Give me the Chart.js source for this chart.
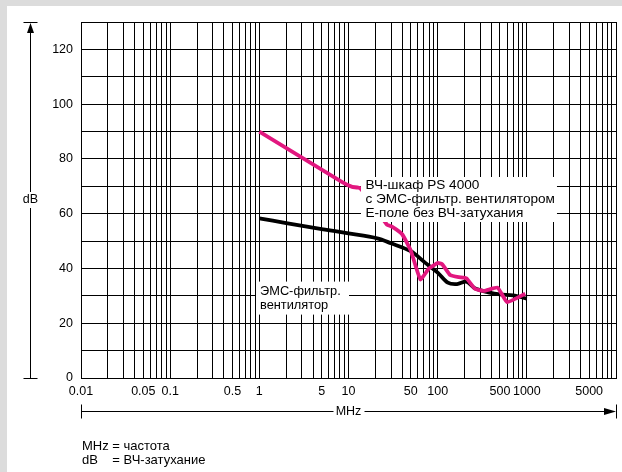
<!DOCTYPE html>
<html lang="ru">
<head>
  <meta charset="UTF-8">
  <title>ВЧ-затухание</title>
  <script src="https://cdn.jsdelivr.net/npm/chart.js"></script>
  <style>
    body {
      margin: 0;
      background: #dcdcdc;
      width: 622px;
      height: 472px;
      overflow: hidden;
      position: relative;
      font-family: "Liberation Sans", Arial, sans-serif;
    }
    .panel {
      position: absolute;
      left: 7px;
      top: 6px;
      right: 0;
      bottom: 0;
      background: #fff;
    }
    #chart {
      position: absolute;
      left: 0;
      top: 0;
    }
    .note {
      position: absolute;
      left: 82px;
      top: 439px;
      font-size: 13px;
      line-height: 13.5px;
      color: #000;
      white-space: pre;
    }
  </style>
</head>
<body>

<div class="panel"></div>
<canvas id="chart" width="622" height="472"></canvas>
<div class="note">MHz = частота
dB    = ВЧ-затухание</div>

<script>
// шкаф с фильтром (розовая кривая), MHz / dB
const freqCabinet = [1, 8.5, 11, 13.5, 20, 27, 31, 40, 50, 64, 80, 100, 112, 138, 172, 210, 262, 330, 470, 600, 960];
const dbCabinet   = [90, 71.5, 69.8, 69.3, 62, 56, 55.2, 52.5, 46.5, 36, 40, 42, 41.6, 37.6, 36.8, 36.4, 32.6, 31.8, 33, 27.7, 30.8];

// только ЭМС-фильтр вентилятора (чёрная кривая)
const freqFilter = [1, 2, 5, 10, 21, 30, 50, 70, 100, 130, 165, 210, 260, 370, 500, 700, 1000];
const dbFilter   = [58.3, 56.6, 54.4, 52.8, 51, 49.2, 46.3, 42.5, 38.5, 34.8, 34.3, 35.2, 32.8, 31.3, 30.5, 30.2, 29];

const xLabelValues = [0.01, 0.05, 0.1, 0.5, 1, 5, 10, 50, 100, 500, 1000, 5000];
const xLabels = ['0.01', '0.05', '0.1', '0.5', '1', '5', '10', '50', '100', '500', '1000', '5000'];
const yLabelValues = [0, 20, 40, 60, 80, 100, 120];

const cabinetText = ['ВЧ-шкаф PS 4000', 'с ЭМС-фильтр. вентилятором', 'Е-поле без ВЧ-затухания'];
const filterText = ['ЭМС-фильтр.', 'вентилятор'];

const FONT = '"Liberation Sans", Arial, sans-serif';

// линии сетки: 1..9 в каждой декаде
const gridValues = [];
for (let e = -2; e <= 3; e++) {
  for (let m = 1; m <= 9; m++) gridValues.push(+(m * Math.pow(10, e)).toPrecision(3));
}
gridValues.push(10000);

function toPoints(xs, ys) {
  return xs.map((x, i) => ({ x: x, y: ys[i] }));
}

function xLabelFor(v) {
  const i = xLabelValues.findIndex(lv => Math.abs(v / lv - 1) < 1e-6);
  return i >= 0 ? xLabels[i] : '';
}

// белые подписи поверх кривых
const labelBoxes = {
  id: 'labelBoxes',
  afterDatasetsDraw(chart) {
    const ctx = chart.ctx;
    const xs = chart.scales.x, ys = chart.scales.y;
    const boxes = [
      { f: 13.8, db: 73.4, w: 196, h: 45, lines: cabinetText, size: 13.6, lh: 13.8, pad: 4.5 },
      { f: 0.918, db: 35.2, w: 93, h: 33, lines: filterText, size: 12.8, lh: 14, pad: 4 }
    ];
    ctx.save();
    boxes.forEach(b => {
      const x = xs.getPixelForValue(b.f);
      const y = ys.getPixelForValue(b.db);
      ctx.fillStyle = '#fff';
      ctx.fillRect(x, y, b.w, b.h);
      ctx.fillStyle = '#000';
      ctx.font = b.size + 'px ' + FONT;
      ctx.textAlign = 'left';
      ctx.textBaseline = 'middle';
      const top = y + (b.h - b.lh * b.lines.length) / 2 + b.lh / 2;
      b.lines.forEach((t, i) => ctx.fillText(t, x + b.pad, top + i * b.lh));
    });
    ctx.restore();
  }
};

// стрелки осей dB и MHz
const axisArrows = {
  id: 'axisArrows',
  afterDraw(chart) {
    const ctx = chart.ctx;
    const a = chart.chartArea;
    const ax = 30.5;
    const ay = 411.5;
    const midY = (a.top + a.bottom) / 2;
    const midX = (a.left + a.right) / 2;
    ctx.save();
    ctx.strokeStyle = '#000';
    ctx.fillStyle = '#000';
    ctx.lineWidth = 1;
    ctx.beginPath();
    // вертикальная ось
    ctx.moveTo(ax - 7, a.top + 0.5); ctx.lineTo(ax + 7, a.top + 0.5);
    ctx.moveTo(ax - 7, a.bottom + 0.5); ctx.lineTo(ax + 7, a.bottom + 0.5);
    ctx.moveTo(ax, a.top + 10); ctx.lineTo(ax, midY - 8);
    ctx.moveTo(ax, midY + 8); ctx.lineTo(ax, a.bottom);
    // горизонтальная ось
    ctx.moveTo(a.left + 0.5, ay - 7); ctx.lineTo(a.left + 0.5, ay + 7);
    ctx.moveTo(a.right + 0.5, ay - 7); ctx.lineTo(a.right + 0.5, ay + 7);
    ctx.moveTo(a.left, ay); ctx.lineTo(midX - 15, ay);
    ctx.moveTo(midX + 16, ay); ctx.lineTo(a.right - 10, ay);
    ctx.stroke();
    ctx.beginPath();
    ctx.moveTo(ax, a.top + 1); ctx.lineTo(ax - 3.5, a.top + 11); ctx.lineTo(ax + 3.5, a.top + 11);
    ctx.closePath(); ctx.fill();
    ctx.beginPath();
    ctx.moveTo(a.right, ay); ctx.lineTo(a.right - 12, ay - 3.5); ctx.lineTo(a.right - 12, ay + 3.5);
    ctx.closePath(); ctx.fill();
    ctx.font = '12.5px ' + FONT;
    ctx.textAlign = 'center';
    ctx.textBaseline = 'middle';
    ctx.fillText('dB', ax, midY);
    ctx.fillText('MHz', midX, ay + 0.5);
    ctx.restore();
  }
};

new Chart(document.getElementById('chart'), {
  type: 'line',
  data: {
    datasets: [
      {
        label: 'ВЧ-шкаф PS 4000',
        data: toPoints(freqCabinet, dbCabinet),
        borderColor: '#e2177f',
        borderWidth: 3.8,
        pointRadius: 0,
        tension: 0.12,
        fill: false
      },
      {
        label: 'ЭМС-фильтр. вентилятор',
        data: toPoints(freqFilter, dbFilter),
        borderColor: '#000',
        borderWidth: 3.8,
        pointRadius: 0,
        tension: 0.3,
        fill: false
      }
    ]
  },
  options: {
    responsive: false,
    animation: false,
    layout: { padding: { left: 0, top: 22, right: 3, bottom: 0 } },
    plugins: {
      legend: { display: false },
      tooltip: { enabled: false }
    },
    scales: {
      x: {
        type: 'logarithmic',
        min: 0.01,
        max: 10000,
        afterBuildTicks: s => { s.ticks = gridValues.map(v => ({ value: v })); },
        afterFit: s => { s.height = 94; },
        grid: { color: '#000', lineWidth: 1, drawTicks: false },
        border: { color: '#000' },
        ticks: {
          autoSkip: false,
          maxRotation: 0,
          padding: 6,
          color: '#000',
          font: { family: FONT, size: 12.5 },
          callback: v => xLabelFor(v)
        }
      },
      y: {
        min: 0,
        max: 130,
        afterFit: s => { s.width = 81; },
        grid: { color: '#000', lineWidth: 1, drawTicks: false },
        border: { color: '#000' },
        ticks: {
          stepSize: 10,
          padding: 8,
          color: '#000',
          font: { family: FONT, size: 12.5 },
          callback: v => yLabelValues.includes(v) ? v : ''
        }
      }
    }
  },
  plugins: [labelBoxes, axisArrows]
});
</script>
</body>
</html>
